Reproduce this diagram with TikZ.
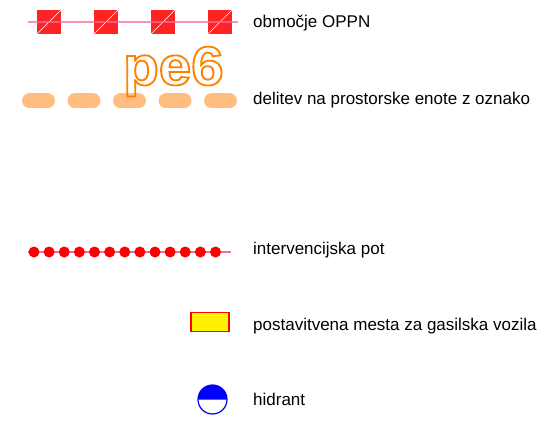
\documentclass[tikz,border=0pt]{standalone}
\usepackage{fontspec}
\setmainfont{Liberation Sans}
\usetikzlibrary{positioning}
\definecolor{oppnred}{RGB}{255,36,36}
\definecolor{linepink}{RGB}{240,110,160}
\definecolor{unitorange}{RGB}{255,190,128}
\definecolor{tagorange}{RGB}{255,128,0}
\definecolor{dotred}{RGB}{255,0,0}
\definecolor{hydblue}{RGB}{0,0,255}
% outlined text (stroke only)
\newcommand{\outlinetag}[1]{\special{pdf:literal direct 1 Tr 1.8 w}#1\special{pdf:literal direct 0 Tr}}

\begin{document}
\begin{tikzpicture}[
        x=1pt, y=-1pt,
        legendtext/.style={anchor=base west, inner sep=0pt, font=\fontsize{17}{20}\selectfont},
        oppnbox/.style={fill=oppnred, draw=none},
        unitdash/.style={draw=unitorange, line width=15pt, line cap=round},
        pathdot/.style={circle, fill=dotred, inner sep=0pt, minimum size=11pt}
    ]
        \useasboundingbox (0,0) rectangle (544,428);

        % obmocje OPPN
        \foreach \cx in {49,106,163,220} {
            \fill[oppnbox] (\cx-12,10) rectangle (\cx+12,34);
            \draw[white, line width=0.4pt] (\cx-12,34) -- (\cx+12,10);
        }
        \draw[linepink, line width=1.2pt, opacity=0.75] (28,22) -- (238,22);
        \node[legendtext] (oppn) at (253,28) {območje OPPN};

        % prostorske enote
        \foreach \dx in {0,1,2,3,4}
            \draw[unitdash] (29.5+45.5*\dx,101) -- (47.5+45.5*\dx,101);
        \node[anchor=base west, inner sep=0pt, text=tagorange] (tag) at (123,85)
            {\scalebox{1.06}[1]{\fontsize{55}{60}\selectfont\bfseries\outlinetag{pe6}}};
        \node[legendtext] (enote) at (253,104) {delitev na prostorske enote z oznako};

        % intervencijska pot
        \coordinate (potA) at (28,252);
        \coordinate (potB) at (231,252);
        \draw[linepink, line width=1.2pt] (potA) -- (potB);
        \foreach \i in {0,...,12}
            \node[pathdot] (dot\i) at (34+15.125*\i,252) {};
        \node[legendtext] (pot) at (253,254) {intervencijska pot};

        % gasilska vozila
        \node[rectangle, draw=dotred, fill=yellow, line width=1.2pt, minimum width=38pt, minimum height=19pt, inner sep=0pt] (vozila) at (210,322) {};
        \node[legendtext] (mesta) at (253,330) {postavitvena mesta za gasilska vozila};

        % hidrant
        \fill[hydblue] (198,399.5) arc[start angle=180, end angle=360, radius=14.5];
        \node[circle, draw=hydblue, line width=1.2pt, minimum size=29pt, inner sep=0pt] (hyd) at (212.5,399.5) {};
        \node[legendtext] (hidrant) at (253,405) {hidrant};
    \end{tikzpicture}
\end{document}
